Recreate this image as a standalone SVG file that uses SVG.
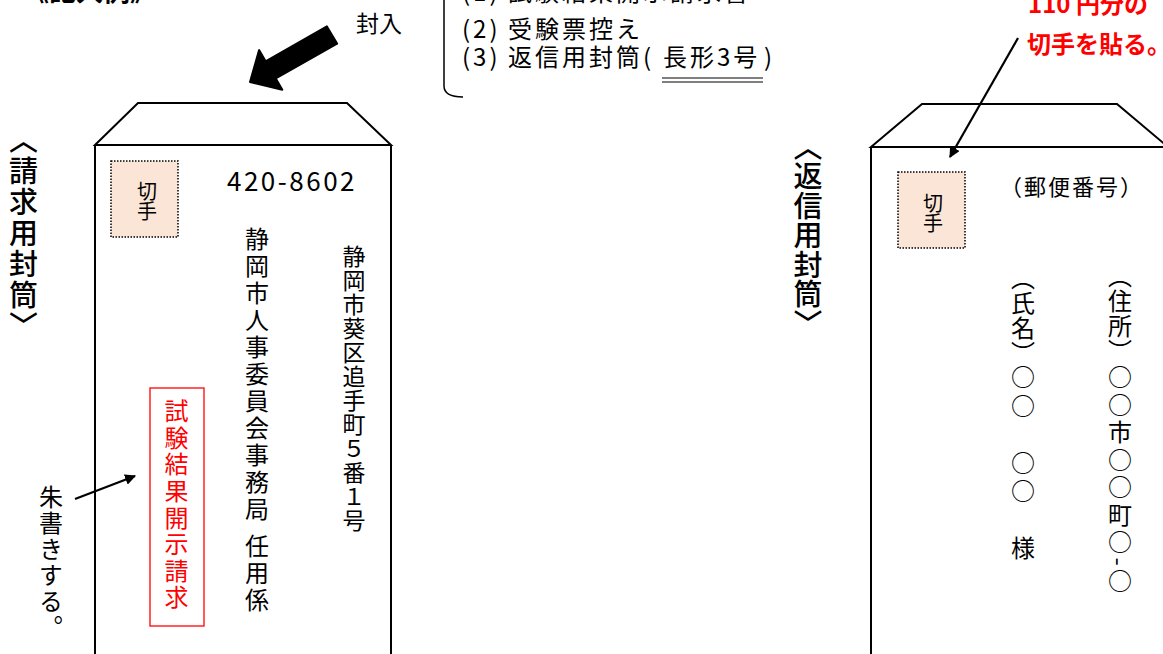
<svg xmlns="http://www.w3.org/2000/svg" width="1163" height="654" viewBox="0 0 1163 654">
<style>
  text { font-family: "Noto Sans CJK JP", "Noto Sans", sans-serif; fill: #000; }
  .v { writing-mode: vertical-rl; }
  .env { fill: #fff; stroke: #000; stroke-width: 2; stroke-linejoin: miter; }
  .ln { fill: none; stroke: #000; stroke-width: 2; }
  .stamp { fill: #FBE5D6; stroke: #000; stroke-width: 1.5; stroke-dasharray: 1.5 1.5; }
  .red { fill: #FF0000; }
  .list { font-size: 24px; letter-spacing: 3px; }
  .label { font-size: 29px; font-weight: 500; }
</style>
<defs>
  <marker id="ah" viewBox="0 0 10 10" refX="9" refY="5" markerWidth="5" markerHeight="5" orient="auto" markerUnits="strokeWidth">
    <path d="M0,0 L10,5 L0,10 Z" fill="#000"/>
  </marker>
</defs>

<g id="title">
  <text x="22" y="1" font-size="27" font-weight="bold">《記入例》</text>
</g>

<g id="enclosure-list">
  <text class="list" y="1"><tspan x="462">(1)</tspan><tspan x="508">試験結果開示請求書</tspan></text>
  <text class="list" y="38"><tspan x="462">(2)</tspan><tspan x="508">受験票控え</tspan></text>
  <text class="list" y="66"><tspan x="462">(3)</tspan><tspan x="508">返信用封筒</tspan><tspan x="643">(</tspan><tspan x="663">長形3号</tspan><tspan x="764">)</tspan></text>
  <line x1="662" y1="78" x2="763" y2="78" stroke="#000" stroke-width="1.2"/>
  <line x1="662" y1="82" x2="763" y2="82" stroke="#000" stroke-width="1.2"/>
  <path d="M444,0 L444,86 Q444,97 463,97" fill="none" stroke="#000" stroke-width="1.5"/>
</g>

<g id="enclose-label">
  <text x="356" y="32" font-size="23">封入</text>
</g>

<g id="stamp-note">
  <text class="red" x="1028" y="13" font-size="24" font-weight="bold">110 円分の</text>
  <text class="red" x="1027" y="53" font-size="24" font-weight="bold">切手を貼る。</text>
</g>

<g id="request-envelope">
  <path class="env" d="M95,145 L138,103 L347,103 L391,145 Z"/>
  <path class="ln" d="M95,145 L95,660 M391,145 L391,660 M95,145 L391,145"/>
  <rect class="stamp" x="111" y="161" width="67" height="76"/>
  <text class="v" x="147" y="181" font-size="20">切手</text>
  <text x="227" y="191" font-size="26" letter-spacing="2.5">420-8602</text>
  <text class="v" x="354" y="245" font-size="23" letter-spacing="1">静岡市葵区追手町５番１号</text>
  <text class="v" x="257" y="227" font-size="24" letter-spacing="3">静岡市人事委員会事務局<tspan y="534">任用係</tspan></text>
  <rect x="150" y="388" width="54" height="238" fill="none" stroke="#FF0000" stroke-width="1.3"/>
  <text class="v red" x="176.5" y="399" font-size="24" letter-spacing="2.6">試験結果開示請求</text>
</g>

<g id="request-label">
  <text class="v label" x="23.5" y="125.5" letter-spacing="2">〈請求用封筒〉</text>
</g>

<g id="red-note">
  <text class="v" x="51" y="485" font-size="24" letter-spacing="2">朱書きする。</text>
</g>

<g id="return-envelope">
  <path class="env" d="M871,147 L922,104 L1117,104 L1168,147 Z"/>
  <path class="ln" d="M871,147 L871,660 M871,147 L1170,147"/>
  <rect class="stamp" x="898" y="172" width="67" height="76"/>
  <text class="v" x="933" y="193" font-size="20">切手</text>
  <text x="1000" y="195" font-size="22" letter-spacing="2">（郵便番号）</text>
  <text class="v" x="1120" y="264" font-size="24" letter-spacing="1">（住所）<tspan y="365" letter-spacing="3.5">○○市○○町○-○</tspan></text>
  <text class="v" x="1023" y="266" font-size="24" letter-spacing="1">（氏名）<tspan y="365" letter-spacing="4.5">○○　○○　様</tspan></text>
</g>

<g id="return-label">
  <text class="v label" x="808" y="132" letter-spacing="0.5">〈返信用封筒〉</text>
</g>

<g id="connectors">
  <polygon points="337.1,43.6 326.9,26.4 265.6,61.3 259.1,50.1 250,82 282.3,89.7 275.8,78.5" fill="#000" stroke="#000" stroke-width="2" stroke-linejoin="round"/>
  <line x1="1018" y1="38" x2="950" y2="157" stroke="#000" stroke-width="2.2" marker-end="url(#ah)"/>
  <line x1="75" y1="499" x2="135" y2="476" stroke="#000" stroke-width="2.2" marker-end="url(#ah)"/>
</g>
</svg>
